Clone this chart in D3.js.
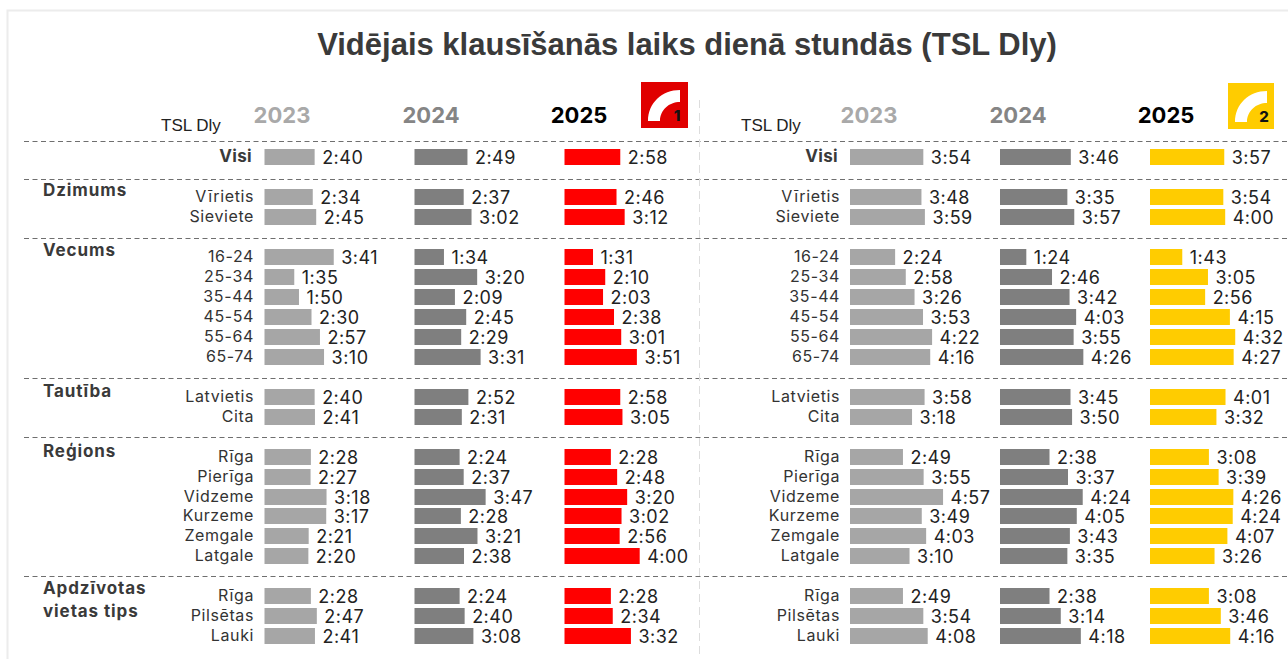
<!DOCTYPE html>
<html><head><meta charset="utf-8">
<script src="https://cdn.jsdelivr.net/npm/d3@7/dist/d3.min.js"></script>
<style>html,body{margin:0;background:#fff}svg{display:block}text{font-family:Inter,"Liberation Sans",sans-serif}</style>
</head><body><svg id="c" width="1288" height="659"></svg>
<script>
const title = "Vidējais klausīšanās laiks dienā stundās (TSL Dly)";
const years = ["2023","2024","2025"];
const groups = ["", "Dzimums", "Vecums", "Tautība", "Reģions", "Apdzīvotas\nvietas tips"];
const categories = [
 ["Visi"],
 ["Vīrietis","Sieviete"],
 ["16-24","25-34","35-44","45-54","55-64","65-74"],
 ["Latvietis","Cita"],
 ["Rīga","Pierīga","Vidzeme","Kurzeme","Zemgale","Latgale"],
 ["Rīga","Pilsētas","Lauki"]
];
const radio1y2023 = ["2:40","2:34","2:45","3:41","1:35","1:50","2:30","2:57","3:10","2:40","2:41","2:28","2:27","3:18","3:17","2:21","2:20","2:28","2:47","2:41"];
const radio1y2024 = ["2:49","2:37","3:02","1:34","3:20","2:09","2:45","2:29","3:31","2:52","2:31","2:24","2:37","3:47","2:28","3:21","2:38","2:24","2:40","3:08"];
const radio1y2025 = ["2:58","2:46","3:12","1:31","2:10","2:03","2:38","3:01","3:51","2:58","3:05","2:28","2:48","3:20","3:02","2:56","4:00","2:28","2:34","3:32"];
const radio2y2023 = ["3:54","3:48","3:59","2:24","2:58","3:26","3:53","4:22","4:16","3:58","3:18","2:49","3:55","4:57","3:49","4:03","3:10","2:49","3:54","4:08"];
const radio2y2024 = ["3:46","3:35","3:57","1:24","2:46","3:42","4:03","3:55","4:26","3:45","3:50","2:38","3:37","4:24","4:05","3:43","3:35","2:38","3:14","4:18"];
const radio2y2025 = ["3:57","3:54","4:00","1:43","3:05","2:56","4:15","4:32","4:27","4:01","3:32","3:08","3:39","4:26","4:24","4:07","3:26","3:08","3:46","4:16"];

const mins = s => { const [h,m] = s.split(":").map(Number); return h*60+m; };
const svg = d3.select("#c");
const ink = "#3a3a3a";
const rowYs = [157,197,217,257,277,297,317,337,357,397,417,457,477,497,516,536,556,596,616,636];
const ruleYs = [141,179,238,378,437,576];
const groupYs = [null,190,250,391,451,588];
const xLen = d3.scaleLinear().domain([0,300]).range([0,94]);

// frame
svg.append("path").attr("d","M7.5 659V10.5H1288").attr("fill","none").attr("stroke","#ececec").attr("stroke-width",2);
svg.append("text").attr("x",687).attr("y",55).attr("text-anchor","middle")
  .style("font-family","'Liberation Sans',sans-serif").style("font-weight",700).style("font-size","31px").attr("fill",ink).text(title);

// rules
ruleYs.forEach(y=>svg.append("line").attr("x1",24).attr("x2",1288).attr("y1",y+0.5).attr("y2",y+0.5)
  .attr("stroke","#6f6f6f").attr("stroke-dasharray","5 3.5"));
svg.append("line").attr("x1",699.5).attr("x2",699.5).attr("y1",100).attr("y2",659).attr("stroke","#dddddd").attr("stroke-dasharray","8 5");

// group titles
groups.forEach((g,i)=>{ if(!g) return;
  g.split("\n").forEach((t,k)=>svg.append("text").attr("x",43).attr("y",groupYs[i]+5.5+k*23)
    .attr("font-size",17).attr("font-weight",700).attr("letter-spacing",0.9).attr("fill",ink).text(t));
});

const flat = categories.flat();
const boldIdx = 0;
const panels = [
 {labelX:254,tslX:161,tslY:131,cols:[264.5,414.5,564.5],yearX:[282,431,579],series:[radio1y2023,radio1y2024,radio1y2025],accent:"#ff0000"},
 {labelX:840,tslX:741,tslY:131,cols:[850,1000,1150],yearX:[869,1018,1166],series:[radio2y2023,radio2y2024,radio2y2025],accent:"#ffcc00"}
];
const yearColors = ["#a9a9a9","#858585","#000000"];
panels.forEach(p=>{
  svg.append("text").attr("x",p.tslX).attr("y",p.tslY).style("font-family","'Liberation Sans',sans-serif").attr("font-size",17).attr("fill","#222").text("TSL Dly");
  years.forEach((yr,j)=>svg.append("text").attr("x",p.yearX[j]).attr("y",123).attr("text-anchor","middle")
    .attr("font-size",22).attr("font-weight",700).attr("fill",yearColors[j]).text(yr));
  svg.append("g").selectAll("text").data(flat).join("text")
    .attr("x",(d,i)=>i===boldIdx?p.labelX-2:p.labelX).attr("y",(d,i)=>rowYs[i]+5).attr("text-anchor","end")
    .attr("font-size",(d,i)=>i===boldIdx?17:16).attr("letter-spacing",(d,i)=>i===boldIdx?0.3:0.6).attr("font-weight",(d,i)=>i===boldIdx?700:400)
    .attr("fill",(d,i)=>i===boldIdx?ink:"#333").text(d=>d);
  p.series.forEach((vals,j)=>{
    const col = j===2?p.accent:(j===0?"#a6a6a6":"#7f7f7f");
    const g = svg.append("g").attr("transform",`translate(${p.cols[j]},0)`);
    g.selectAll("rect").data(vals).join("rect").attr("x",0).attr("y",(d,i)=>rowYs[i]-8)
      .attr("width",d=>xLen(mins(d))).attr("height",16).attr("fill",col);
    g.selectAll("text").data(vals).join("text").attr("x",d=>xLen(mins(d))+7.5).attr("y",(d,i)=>rowYs[i]+6.5)
      .attr("font-size",18).attr("letter-spacing",0.5).attr("fill","#222").text(d=>d);
  });
});

// logos
function logo(x,y,w,h,bg,n){
  const g = svg.append("g").attr("transform",`translate(${x},${y})`);
  g.append("rect").attr("width",w).attr("height",h).attr("fill",bg);
  g.append("path").attr("d","M7 39 C7 21 21 8 39 8 V20 C28 20 19 28 19 39 Z").attr("fill","#fff");
  g.append("text").attr("x",36).attr("y",39).attr("text-anchor","middle").attr("font-size",15).attr("font-weight",800).attr("fill","#111").text(n);
}
logo(641,82,47,46,"#e00000","1");
logo(1228,83,46,46,"#ffcc00","2");
</script></body></html>
